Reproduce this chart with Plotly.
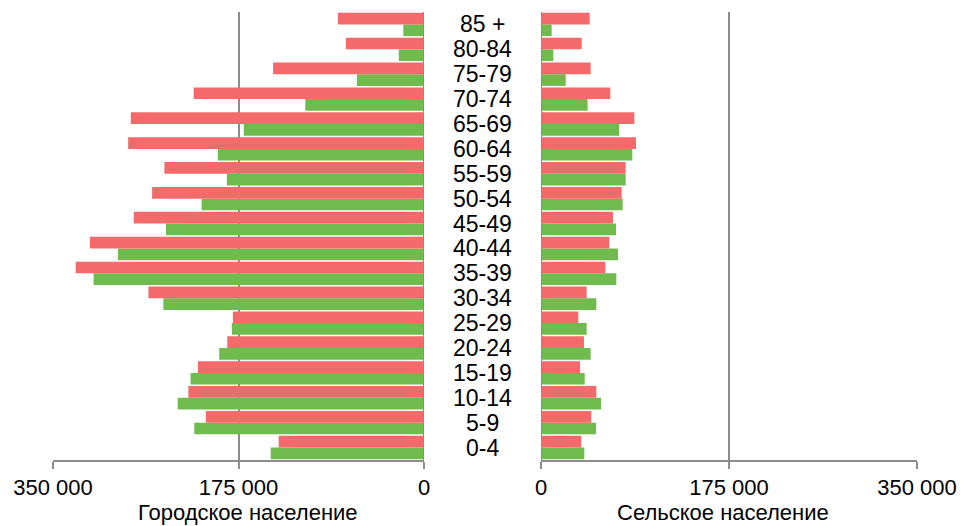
import plotly.graph_objects as go

ages = ['0-4', '5-9', '10-14', '15-19', '20-24', '25-29', '30-34', '35-39', '40-44',
        '45-49', '50-54', '55-59', '60-64', '65-69', '70-74', '75-79', '80-84', '85 +']

# urban population (left), red = upper bar, green = lower bar
urban_red = [137100, 205800, 222300, 213300, 185600, 180300, 260000, 328600, 315200,
             273800, 256500, 244900, 279100, 276600, 217300, 142400, 73700, 81200]
urban_green = [144600, 216700, 232400, 220200, 193200, 181300, 245900, 311700, 288800,
               243400, 209800, 186000, 194500, 170000, 112000, 63300, 23800, 19500]

# rural population (right)
rural_red = [37500, 46800, 51500, 36300, 40000, 34700, 42500, 59900, 63600,
             67000, 75100, 78800, 88400, 86900, 64500, 46200, 37900, 45300]
rural_green = [40300, 51200, 55900, 40700, 46200, 42500, 51500, 70100, 71700,
               69800, 76000, 78800, 85000, 72600, 43400, 23000, 11500, 9900]

tick_vals = [0, 175000, 350000]
tick_text = ['0', '175 000', '350 000']

RED = '#F46A6A'
GREEN = '#6FBB4E'
GRID = '#8C8C8C'
FONT = 'Liberation Sans, Arial, sans-serif'

fig = go.Figure()

for vals, col, ax in [(urban_green, GREEN, 'x'), (urban_red, RED, 'x'),
                      (rural_green, GREEN, 'x2'), (rural_red, RED, 'x2')]:
    fig.add_trace(go.Bar(x=vals, y=ages, orientation='h', marker=dict(color=col, line=dict(width=0)),
                         xaxis=ax, yaxis='y', showlegend=False))

axis_common = dict(tickvals=tick_vals, ticktext=tick_text, showgrid=True, gridcolor=GRID,
                   gridwidth=1.5, showline=True, linecolor=GRID, linewidth=2,
                   ticks='outside', ticklen=7, tickcolor=GRID, tickwidth=1.5,
                   tickfont=dict(size=22, color='black', family=FONT),
                   zeroline=False, automargin=False)

fig.update_layout(
    xaxis=dict(domain=[53 / 963, 424 / 963], range=[350000, 0], **axis_common),
    xaxis2=dict(domain=[541 / 963, 917 / 963], range=[0, 350000], **axis_common),
    yaxis=dict(categoryorder='array', categoryarray=ages, showticklabels=False, showgrid=False,
               zeroline=False, showline=False, range=[-0.5, 17.5], automargin=False),
    barmode='group', bargap=0.06, bargroupgap=0.0,
    plot_bgcolor='white', paper_bgcolor='white',
    width=963, height=526,
    margin=dict(l=0, r=0, t=12, b=66),
    font=dict(family=FONT, color='black'),
)

# vertical lines at the inner edges of both panels
fig.add_shape(type='line', xref='x', yref='paper', x0=0, x1=0, y0=0, y1=1,
              line=dict(color=GRID, width=2))
fig.add_shape(type='line', xref='x2', yref='paper', x0=0, x1=0, y0=0, y1=1,
              line=dict(color=GRID, width=2))

for a in ages:
    fig.add_annotation(x=482 / 963, xref='paper', y=a, yref='y', text=a, showarrow=False,
                       xanchor='center', font=dict(size=23, color='black', family=FONT))

# axis titles
for xc, txt in [(248 / 963, 'Городское население'), (723 / 963, 'Сельское население')]:
    fig.add_annotation(x=xc, xref='paper', y=-52 / 448, yref='paper', text=txt, showarrow=False,
                       xanchor='center', yanchor='middle',
                       font=dict(size=22, color='black', family=FONT))

# drop the default page margin so the figure fills the window exactly
fig.write_html("out.html", config={'displayModeBar': False},
               post_script="document.body.style.margin='0';")
